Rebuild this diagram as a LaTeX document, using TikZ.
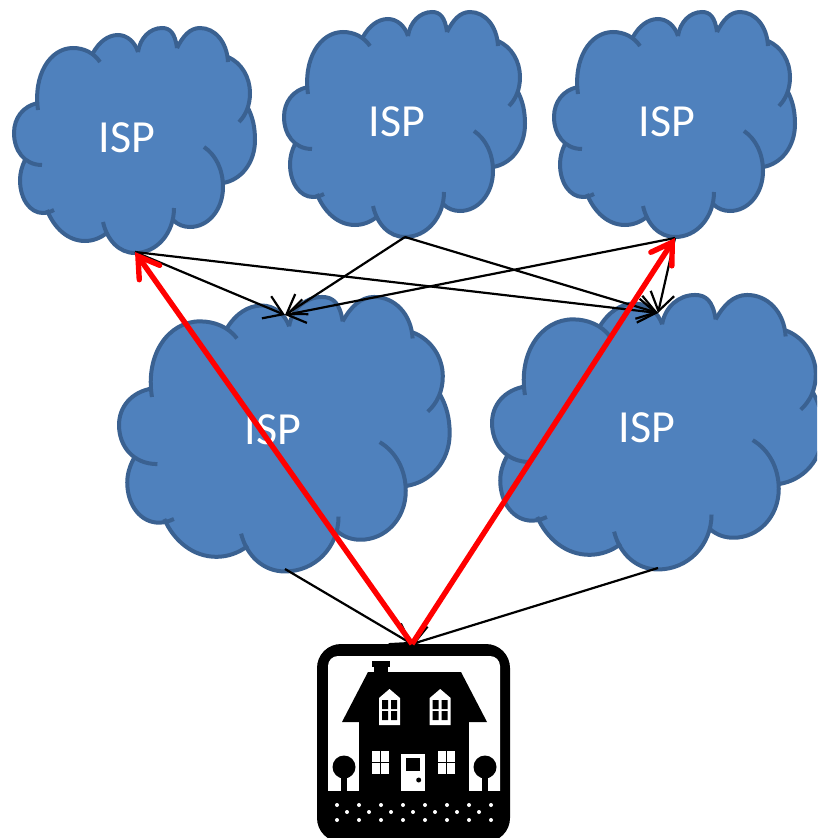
\documentclass[tikz,border=0pt]{standalone}
\usepackage{fontspec}
\setmainfont{Carlito}
\usetikzlibrary{arrows.meta}
\definecolor{cloudblue}{HTML}{4F81BD}
\definecolor{cloudedge}{HTML}{3A6191}
\tikzset{
  lobeline/.style={draw=cloudedge,line width=4pt},
  isplabel/.style={text=white,font=\fontsize{46}{50}\selectfont,inner sep=0pt},
  linkarrow/.style={black,line width=2.2pt,-{Straight Barb[length=18pt,width=24pt,line width=2.2pt]}},
  oneredarrow/.style={red,line width=5.4pt,-{Straight Barb[length=20pt,width=25pt,line width=5.4pt,line cap=round]}},
  blackpart/.style={fill=black,draw=none},
  whitepart/.style={fill=white,draw=none}
}
\newcommand\cloudlobes[1]{%
 #1{(42,165) .. controls (24,165) and (14,150) .. (14,133) .. controls (14,118) and (23,106) .. (38,103)}%
 #1{(38,110) .. controls (33,75) and (50,48) .. (73,48) .. controls (84,48) and (94,53) .. (100,62)}%
 #1{(93,53) .. controls (99,42) and (108,35) .. (118,35) .. controls (127,35) and (135,42) .. (138,52)}%
 #1{(138,52) .. controls (140,38) and (150,28) .. (162,28) .. controls (170,28) and (175,33) .. (177,48)}%
 #1{(177,48) .. controls (183,36) and (190,28) .. (200,28) .. controls (215,28) and (227,42) .. (228,62)}%
 #1{(228,57) .. controls (242,63) and (250,78) .. (250,93) .. controls (250,105) and (246,115) .. (239,122)}%
 #1{(248,108) .. controls (253,118) and (255,128) .. (255,140) .. controls (255,163) and (241,180) .. (223,183)}%
 #1{(204,147) .. controls (216,155) and (223,170) .. (223,187) .. controls (223,210) and (208,227) .. (190,227) .. controls (184,227) and (178,225) .. (173,220)}%
 #1{(174,208) .. controls (174,233) and (157,253) .. (135,253) .. controls (119,253) and (107,240) .. (103,222)}%
 #1{(108,232) .. controls (101,238) and (93,241) .. (85,241) .. controls (68,241) and (54,228) .. (47,210)}%
 #1{(54,210) .. controls (50,212) and (47,213) .. (43,213) .. controls (30,213) and (20,199) .. (20,180) .. controls (20,173) and (22,166) .. (25,160)}%
}
\newcommand\fillseg[1]{-- #1}
\newcommand\drawseg[1]{\draw[lobeline] #1;}
\newcommand\ispcloud[3]{%
 \begin{scope}[shift={(#1,#2)},#3]
  \fill[cloudblue] (42,165) \cloudlobes\fillseg -- cycle;
  \cloudlobes\drawseg
 \end{scope}}
\newcommand\dormer[1]{%
 \begin{scope}[shift={(#1,0)}]
  \fill[whitepart] (379,698)--(389.5,689)--(400,698)--(400,725)--(379,725)--cycle;
  \fill[blackpart] (382,700) rectangle (388,709) (391,700) rectangle (397,709)
                   (382,711) rectangle (388,720) (391,711) rectangle (397,720);
 \end{scope}}
\newcommand\housewindow[1]{%
 \begin{scope}[shift={(#1,0)}]
  \fill[whitepart] (372,751) rectangle (389,774);
  \draw[black,line width=1pt] (380.5,751)--(380.5,774) (372,762.5)--(389,762.5);
 \end{scope}}
\newcommand\tree[1]{%
 \fill[blackpart] (#1,767) circle (11.5);
 \fill[blackpart] (#1-3,770) rectangle (#1+3,792);}
\begin{document}
\begin{tikzpicture}[x=1pt,y=-1pt]
\useasboundingbox (0,0) rectangle (817,838);
\clip (0,0) rectangle (817,838);
% clouds
\ispcloud{0}{0}{}
\ispcloud{270}{-16}{}
\ispcloud{540}{-16}{}
\ispcloud{99.8}{262.8}{xscale=1.372,yscale=1.22}
\ispcloud{472.8}{260.8}{xscale=1.372,yscale=1.22}
\node[isplabel] (isp1) at (127,138) {ISP};
\node[isplabel] (isp2) at (397,122) {ISP};
\node[isplabel] (isp3) at (667,122) {ISP};
\node[isplabel] (isp4) at (273,430) {ISP};
\node[isplabel] (isp5) at (647,428) {ISP};
% house icon
\fill[blackpart,rounded corners=24pt] (317,644) rectangle (510,842);
\fill[whitepart,rounded corners=10pt] (328,656) rectangle (500,815);
\fill[blackpart] (325,791) rectangle (503,820);
\fill[blackpart] (372,661) rectangle (390,667);
\fill[blackpart] (374,667) rectangle (388,673);
\fill[blackpart] (368,672)--(461,672)--(487,722)--(342,722)--cycle;
\fill[blackpart] (359,722) rectangle (469,792);
\dormer{0}
\dormer{50.7}
\housewindow{0}
\housewindow{66}
\fill[whitepart] (401,754) rectangle (425,791);
\fill[blackpart] (406,758) rectangle (420,771);
\fill[blackpart] (418.7,780) circle (2.5);
\tree{344}
\tree{485}
\foreach \xd in {337,359,381,403,425,447,469,491}{
  \fill[whitepart] (\xd,805) circle (2);
  \fill[whitepart] (\xd,820) circle (2);
}
\foreach \xd in {347,369,391,413,435,457,479}{
  \fill[whitepart] (\xd,812) circle (2);
}
% connection points
\coordinate (top1) at (135,252);
\coordinate (top2) at (405,237);
\coordinate (top3) at (675,238);
\coordinate (in4) at (285,315);
\coordinate (in5) at (658,313);
\coordinate (out4) at (285,569);
\coordinate (out5) at (658,568);
\coordinate (home) at (412,644);
% links
\draw[linkarrow] (top1) -- (in4);
\draw[linkarrow] (top1) -- (in5);
\draw[linkarrow] (top2) -- (in4);
\draw[linkarrow] (top2) -- (in5);
\draw[linkarrow] (top3) -- (in4);
\draw[linkarrow] (top3) -- (in5);
\draw[linkarrow] (out4) -- (home);
\draw[linkarrow] (out5) -- (home);
\draw[oneredarrow] (home) -- (top1);
\draw[oneredarrow] (home) -- (top3);
\end{tikzpicture}
\end{document}
